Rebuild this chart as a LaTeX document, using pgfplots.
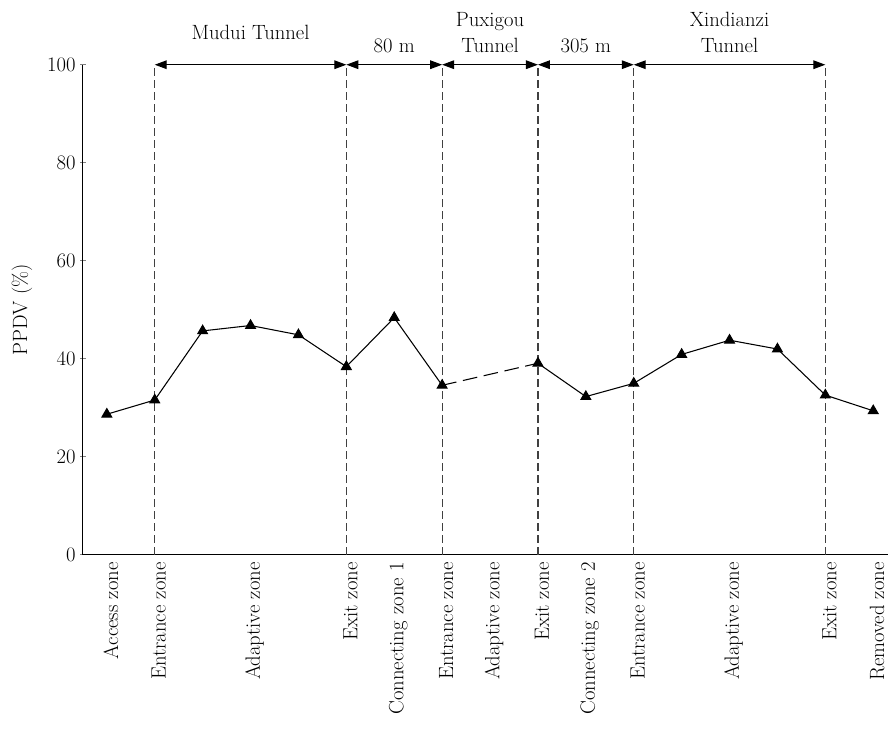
\documentclass[border=0pt]{standalone}
\usepackage{fontspec}
\usepackage{pgfplots}
\usepackage{pgfplotstable}
\pgfplotsset{compat=1.18}
\usetikzlibrary{arrows.meta}

% PPDV along the three tunnels (zone index vs. value)
\pgfplotstableread{
x y
0 28.7
1 31.6
2 45.7
3 46.8
4 44.9
5 38.4
6 48.4
7 34.6
}\firstpart
\pgfplotstableread{
x y
9 39.1
10 32.3
11 35.0
12 40.9
13 43.8
14 42.0
15 32.6
16 29.4
}\secondpart

\newcommand{\figfont}{\fontsize{15.5}{18}\selectfont}

\begin{document}
\begin{tikzpicture}[
  zonesep/.style={dash pattern=on 6pt off 3pt, line width=0.9pt, black!75},
  span/.style={{Triangle[length=9pt,width=6.5pt]}-{Triangle[length=9pt,width=6.5pt]}, line width=0.8pt},
]
\begin{axis}[
  scale only axis,
  width=604.5pt, height=368.25pt,
  xmin=-0.5, xmax=16.3,
  ymin=0, ymax=100,
  axis x line=bottom, axis y line=left,
  axis line style={-, line width=0.8pt},
  clip=false,
  font=\figfont,
  /pgf/number format/assume math mode=true,
  ytick={0,20,40,60,80,100},
  major tick length=4pt,
  ytick style={line width=0.8pt},
  xtick={0,1,3,5,6,7,8,9,10,11,13,15,16},
  xticklabels={Access zone,Entrance zone,Adaptive zone,Exit zone,Connecting zone 1,Entrance zone,Adaptive zone,Exit zone,Connecting zone 2,Entrance zone,Adaptive zone,Exit zone,Removed zone},
  xtick style={draw=none},
  xticklabel style={rotate=90, anchor=east, yshift=-3pt},
  ylabel={PPDV (\%)},
  ylabel style={at={(rel axis cs:-0.0757,0.5)}, anchor=center},
]
% zone boundaries
\foreach \b in {1,5,7,9,11,15}{
  \edef\temp{\noexpand\draw[zonesep] (axis cs:\b,0) -- (axis cs:\b,100);}
  \temp
}
% tunnel and gap spans
\draw[span] (axis cs:1,100) -- (axis cs:5,100);
\draw[span] (axis cs:5,100) -- (axis cs:7,100);
\draw[span] (axis cs:7,100) -- (axis cs:9,100);
\draw[span] (axis cs:9,100) -- (axis cs:11,100);
\draw[span] (axis cs:11,100) -- (axis cs:15,100);
\node[anchor=base] at (axis cs:3,105.1) {Mudui Tunnel};
\node[anchor=base] at (axis cs:6,102.4) {80 m};
\node[anchor=base] at (axis cs:8,107.7) {Puxigou};
\node[anchor=base] at (axis cs:8,102.4) {Tunnel};
\node[anchor=base] at (axis cs:10,102.4) {305 m};
\node[anchor=base] at (axis cs:13,107.7) {Xindianzi};
\node[anchor=base] at (axis cs:13,102.4) {Tunnel};

\addplot[black, line width=0.8pt, dash pattern=on 11pt off 5pt] coordinates {(7,34.6) (9,39.1)};
\addplot[black, line width=0.8pt, mark=triangle*, mark size=4.2pt, mark options={solid, fill=black}] table {\firstpart};
\addplot[black, line width=0.8pt, mark=triangle*, mark size=4.2pt, mark options={solid, fill=black}] table {\secondpart};

\path (rel axis cs:-0.103,-0.356) rectangle (rel axis cs:1,1.132);
\end{axis}
\end{tikzpicture}
\end{document}
